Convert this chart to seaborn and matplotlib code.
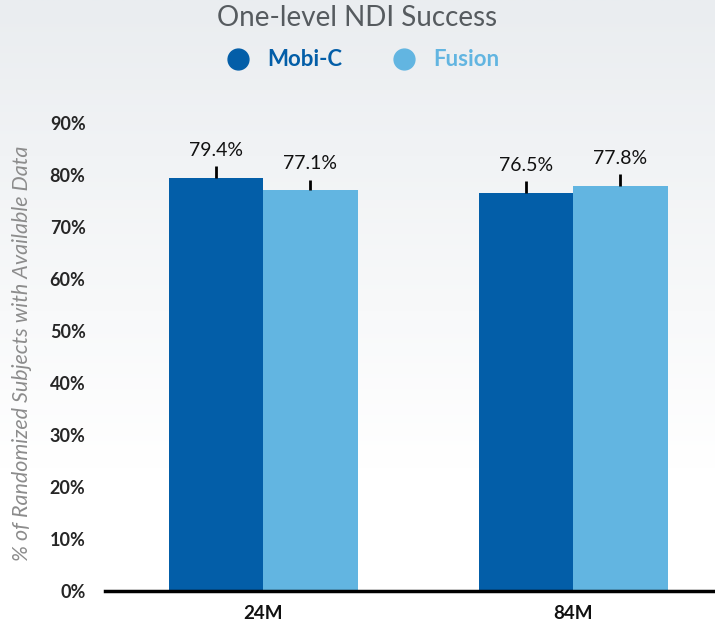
import matplotlib
matplotlib.use('Agg')
import matplotlib.pyplot as plt
import numpy as np
import pandas as pd
import seaborn as sns
from matplotlib.lines import Line2D

# data
periods = ['24M', '84M']
devices = ['Mobi-C', 'Fusion']
mobic_vals = [79.4, 76.5]
fusion_vals = [77.1, 77.8]
mobic_err = [2.3, 2.3]
fusion_err = [2.0, 2.3]
yticks = [0, 10, 20, 30, 40, 50, 60, 70, 80, 90]

colors = {'Mobi-C': '#035ea8', 'Fusion': '#62b5e1'}

df = pd.DataFrame({
    'period': periods * 2,
    'device': ['Mobi-C'] * 2 + ['Fusion'] * 2,
    'value': mobic_vals + fusion_vals,
    'err': mobic_err + fusion_err,
})

sns.set_style('white')
plt.rcParams['font.family'] = ['Lato', 'DejaVu Sans']

fig = plt.figure(figsize=(7.15, 6.23), dpi=100)

# light gray gradient behind everything
bg = fig.add_axes([0, 0, 1, 1], zorder=-10)
grad = np.linspace(0, 1, 256)
grad = np.clip(grad / 0.75, 0, 1)[:, None]
top = np.array([234, 237, 240]) / 255
rgb = top[None, None, :] * (1 - grad[:, :, None]) + grad[:, :, None]
bg.imshow(rgb, aspect='auto', extent=[0, 1, 0, 1])
bg.axis('off')

ax = fig.add_axes([105 / 715, 1 - 591 / 623, 1 - 105 / 715, (591 - 123) / 623])
ax.patch.set_alpha(0)

sns.barplot(data=df, x='period', y='value', hue='device', hue_order=devices,
            palette=colors, width=0.61, gap=0, saturation=1, legend=False,
            errorbar=None, linewidth=0, ax=ax)

# one-sided error bars and value labels
for cont, dev in zip(ax.containers, devices):
    sub = df[df['device'] == dev]
    for bar, v, e in zip(cont.patches, sub['value'], sub['err']):
        xc = bar.get_x() + bar.get_width() / 2
        ax.errorbar(xc, v, yerr=[[0], [e]], fmt='none', ecolor='black',
                    elinewidth=2, capsize=0)
        ax.text(xc, v + e + 1.4, f'{v:.1f}%', ha='center', va='bottom',
                fontsize=14, color='#111111')

ax.set_ylim(0, 90)
ax.set_xlim(-0.51, 1.458)
ax.set_yticks(yticks)
ax.set_yticklabels([f'{t}%' for t in yticks], fontweight='bold', fontsize=13)
ax.tick_params(axis='y', length=0, pad=14)
ax.set_xticks([0.5], minor=True)
ax.tick_params(axis='x', which='minor', length=9, width=2, direction='out', color='black')
ax.tick_params(axis='x', which='major', length=0)
ax.set_xticks([0, 1])
ax.set_xticklabels([])
# category labels under each group, in bold
for i, p in enumerate(periods):
    ax.annotate(p, xy=(i, 0), xycoords=('data', 'axes fraction'),
                xytext=(0, -10), textcoords='offset points', ha='center', va='top',
                fontsize=13.5, fontweight='bold', color='#111111')
ax.set_xlabel('')
ax.set_ylabel('')
sns.despine(ax=ax, left=True)
ax.spines['bottom'].set_linewidth(2.5)
ax.spines['bottom'].set_color('black')

fig.text(22 / 715, 1 - 353 / 623, '% of Randomized Subjects with Available Data',
         rotation=90, ha='center', va='center', fontsize=15.5, style='italic',
         color='#8c8c8c')

fig.text(0.5, 1 - 18 / 623, 'One-level NDI Success', ha='center', va='center',
         fontsize=20, color='#565b5f')

handles = [Line2D([0], [0], marker='o', linestyle='', markersize=15,
                  color=colors[d]) for d in devices]
leg = fig.legend(handles, devices, loc='center', bbox_to_anchor=(0.5, 1 - 60 / 623),
                 ncol=2, frameon=False, handletextpad=0.3, columnspacing=1.8,
                 prop={'weight': 'bold', 'size': 16}, labelcolor='markerfacecolor')

fig.savefig('out.png', dpi=100)
